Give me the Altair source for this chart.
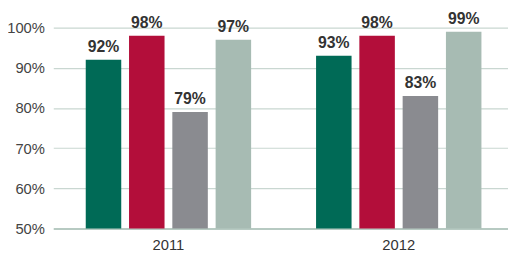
import altair as alt
import pandas as pd

years = ["2011", "2012"]
series = ["A", "B", "C", "D"]
values_2011 = [92, 98, 79, 97]
values_2012 = [93, 98, 83, 99]
colors = ["#006a56", "#b30e3a", "#8a8b90", "#a7bbb3"]

rows = []
for y, vals in zip(years, [values_2011, values_2012]):
    for s, v in zip(series, vals):
        rows.append({"year": y, "series": s, "value": v, "label": f"{v}%"})
df = pd.DataFrame(rows)

font = "Liberation Sans"

x = alt.X("year:N", title=None,
          scale=alt.Scale(range=[0, 468], paddingInner=0, paddingOuter=0),
          axis=alt.Axis(labelAngle=0, ticks=False, domainColor="#a9bfb6", domainWidth=1.5,
                        labelFont=font, labelFontSize=15, labelColor="#333333", labelPadding=9))
xo = alt.XOffset("series:N", scale=alt.Scale(paddingInner=0.18, paddingOuter=0.75))
y = alt.Y("value:Q", title=None,
          scale=alt.Scale(domain=[50, 100], zero=False, nice=False),
          axis=alt.Axis(values=[50, 60, 70, 80, 90, 100], labelExpr="datum.value + '%'",
                        domain=False, ticks=False, gridColor="#c9d7d1", gridWidth=1.2,
                        labelFont=font, labelFontSize=15, labelColor="#444444", labelPadding=9))

bars = alt.Chart(df).mark_bar().encode(
    x=x, xOffset=xo, y=y, y2=alt.datum(50),
    color=alt.Color("series:N", scale=alt.Scale(domain=series, range=colors), legend=None),
)
text = alt.Chart(df).mark_text(baseline="bottom", dy=-5, font=font, fontSize=16,
                               fontWeight="bold", color="#333333").encode(
    x=x, xOffset=xo, y=y, text="label:N")

chart = (bars + text).properties(
    width=462, height=204,
    autosize=alt.AutoSizeParams(type="none"),
    padding={"left": 46, "top": 18, "right": 0, "bottom": 30},
).configure_view(stroke=None)

chart.save("out.html", embed_options={"renderer": "svg", "actions": False})
